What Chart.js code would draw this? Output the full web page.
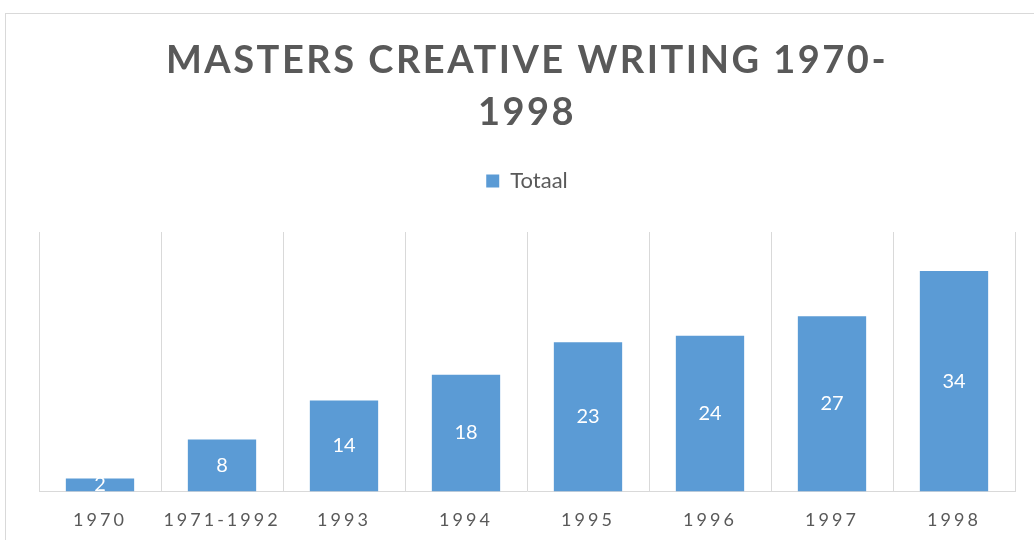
<!DOCTYPE html>
<html>
<head>
<meta charset="utf-8">
<script src="https://cdn.jsdelivr.net/npm/chart.js@4.4.0/dist/chart.umd.min.js"></script>
<style>
  html, body { margin: 0; padding: 0; background: #ffffff; overflow: hidden; }
  .frame { position: absolute; left: 5px; top: 13px; width: 1100px; height: 600px; border: 1px solid #d9d9d9; }
  .wrap { position: absolute; left: 0; top: 0; width: 1034px; height: 540px; }
</style>
</head>
<body>
<div class="frame"></div>
<div class="wrap"><canvas id="mastersChart"></canvas></div>
<script>
const categories = ['1970', '1971-1992', '1993', '1994', '1995', '1996', '1997', '1998'];
const totals = [2, 8, 14, 18, 23, 24, 27, 34];
const titleLines = ['MASTERS CREATIVE WRITING 1970-', '1998'];
const seriesName = 'Totaal';

const textGrey = '#595959';
const barBlue = '#5b9bd5';
const gridGrey = '#d9d9d9';

// letter spacing: ticks get it globally, title its own, legend none
const spacingPlugin = {
    id: 'spacing',
    afterInit(chart) {
        const legendDraw = chart.legend.draw;
        chart.legend.draw = function () {
            const prev = chart.ctx.letterSpacing;
            chart.ctx.letterSpacing = '0px';
            legendDraw.apply(this, arguments);
            chart.ctx.letterSpacing = prev;
        };
        const titleDraw = chart.titleBlock.draw;
        chart.titleBlock.draw = function () {
            const prev = chart.ctx.letterSpacing;
            chart.ctx.letterSpacing = '2.5px';
            titleDraw.apply(this, arguments);
            chart.ctx.letterSpacing = prev;
        };
    },
    beforeDraw(chart) {
        chart.ctx.letterSpacing = '3px';
    },
    afterDraw(chart) {
        chart.ctx.letterSpacing = '0px';
    }
};

// value labels centred inside each bar
const barLabels = {
    id: 'barLabels',
    afterDatasetsDraw(chart) {
        const ctx = chart.ctx;
        const meta = chart.getDatasetMeta(0);
        ctx.save();
        ctx.letterSpacing = '0px';
        ctx.font = '20px Lato';
        ctx.fillStyle = '#ffffff';
        ctx.textAlign = 'center';
        ctx.textBaseline = 'middle';
        meta.data.forEach((bar, i) => {
            const y = (bar.y + bar.base) / 2;
            ctx.fillText(String(totals[i]), bar.x, y);
        });
        ctx.restore();
    }
};

const ctx = document.getElementById('mastersChart').getContext('2d');
new Chart(ctx, {
    type: 'bar',
    data: {
        labels: categories,
        datasets: [{
            label: seriesName,
            data: totals,
            backgroundColor: barBlue,
            borderWidth: 0,
            categoryPercentage: 1,
            barPercentage: 0.56
        }]
    },
    options: {
        responsive: true,
        maintainAspectRatio: false,
        animation: false,
        layout: { padding: { left: 39, right: 19, top: 0, bottom: -9 } },
        plugins: {
            title: {
                display: true,
                text: titleLines,
                color: textGrey,
                font: { family: 'Lato', size: 38, weight: 'bold', lineHeight: 52 / 38 },
                padding: { top: 35, bottom: 23 }
            },
            subtitle: {
                display: true,
                text: '',
                weight: 500,
                font: { size: 10, lineHeight: 1.2 },
                padding: { top: 10, bottom: 8 }
            },
            legend: {
                display: true,
                position: 'top',
                labels: {
                    color: textGrey,
                    font: { family: 'Lato', size: 22 },
                    boxWidth: 13,
                    boxHeight: 13,
                    padding: 8
                }
            },
            tooltip: { enabled: false }
        },
        scales: {
            x: {
                grid: { color: gridGrey, drawTicks: false, offset: true },
                border: { color: gridGrey, width: 1 },
                ticks: {
                    color: textGrey,
                    font: { family: 'Lato', size: 18 },
                    padding: 18,
                    maxRotation: 0,
                    autoSkip: false
                }
            },
            y: {
                display: false,
                min: 0,
                max: 40
            }
        }
    },
    plugins: [spacingPlugin, barLabels]
});
</script>
</body>
</html>
